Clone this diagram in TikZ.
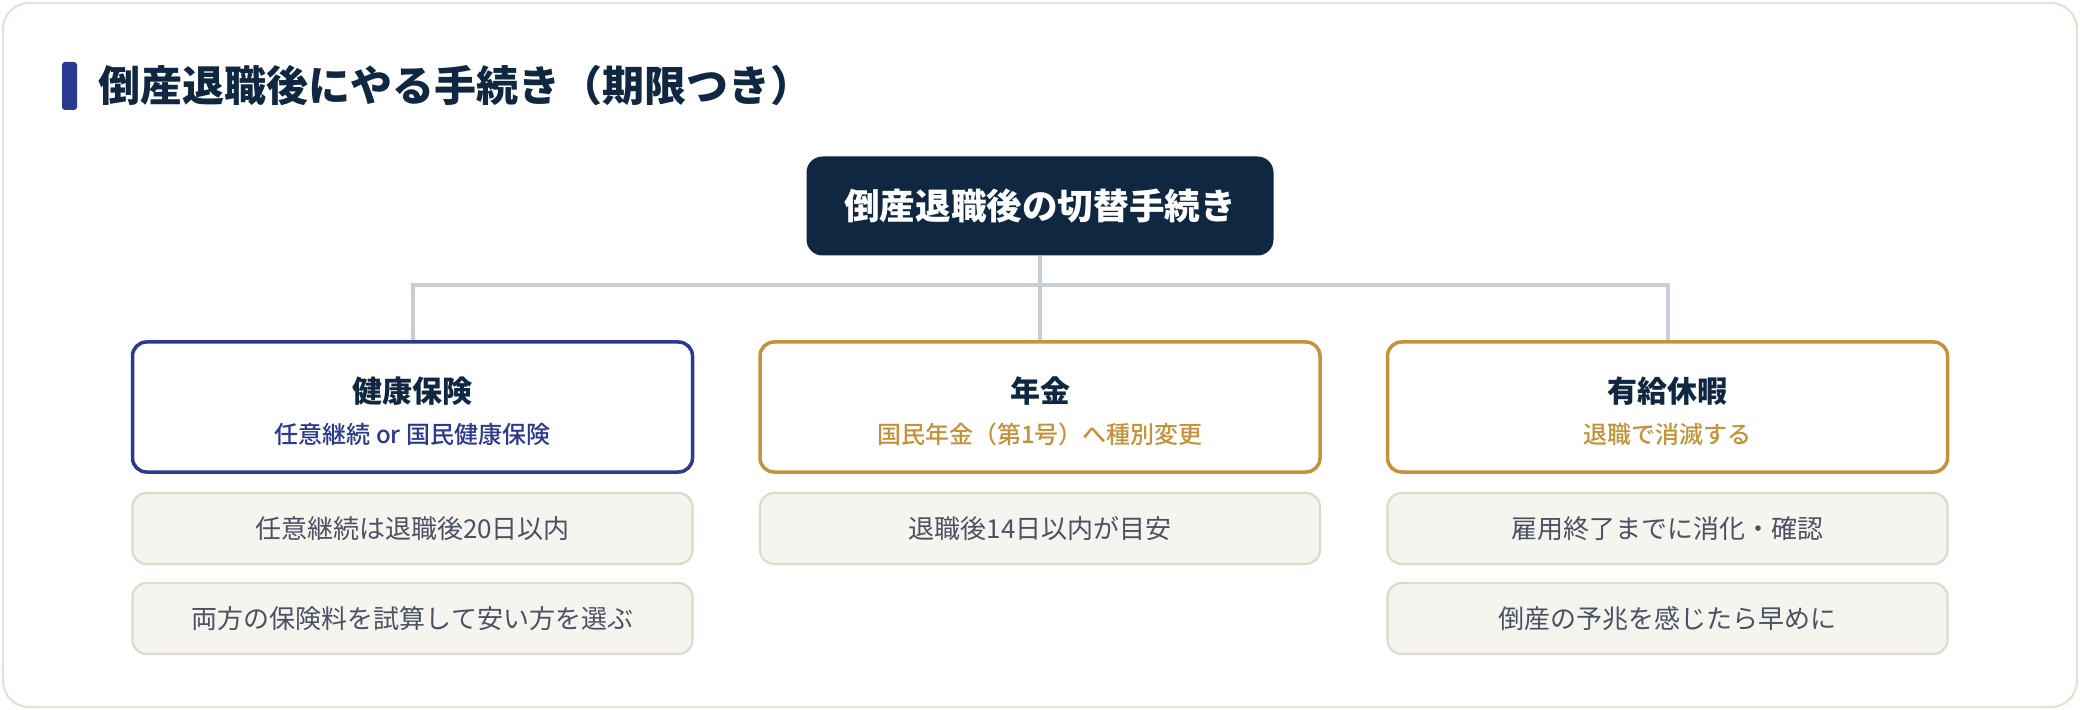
\documentclass[tikz,border=0pt]{standalone}
\usepackage{fontspec}
\setmainfont{Noto Sans CJK JP}
\newfontfamily\medfont{Noto Sans CJK JP Medium}
\definecolor{navy}{HTML}{0F2740}
\definecolor{accblue}{HTML}{2B3990}
\definecolor{gold}{HTML}{C4923A}
\definecolor{linegray}{HTML}{C8CED8}
\definecolor{itemfill}{HTML}{F5F4EF}
\definecolor{itemline}{HTML}{DDDACB}
\definecolor{itemtext}{HTML}{4A5262}
\definecolor{cardline}{HTML}{E6E3D6}
\tikzset{
  rootbox/.style={fill=navy, rounded corners=8pt, minimum width=233.5pt, minimum height=49.5pt, inner sep=0pt, text=white, font=\fontsize{17.8pt}{20pt}\selectfont\bfseries},
  catbox/.style={draw=#1, line width=1.75pt, fill=white, rounded corners=7pt, minimum width=280pt, minimum height=65pt, inner sep=0pt},
  cattitle/.style={text=navy, font=\fontsize{15pt}{18pt}\selectfont\bfseries},
  catsub/.style={text=#1, font=\fontsize{12pt}{14pt}\medfont},
  itembox/.style={draw=itemline, line width=1.1pt, fill=itemfill, rounded corners=7pt, minimum width=280pt, minimum height=35.5pt, inner sep=0pt, text=itemtext, font=\fontsize{13pt}{15pt}\selectfont},
  conn/.style={draw=linegray, line width=2pt}
}
\begin{document}
\begin{tikzpicture}[x=0.5pt,y=-0.5pt]
\useasboundingbox (0,0) rectangle (2080,710);
\fill[white] (0,0) rectangle (2080,710);
\draw[cardline, line width=1.2pt, rounded corners=13pt] (3,3) rectangle (2077,707);
% title
\fill[accblue, rounded corners=1.5pt] (62,62) rectangle (77,110);
\node[anchor=west, inner sep=0pt, text=navy, font=\fontsize{21pt}{24pt}\selectfont\bfseries] (title) at (98,86) {倒産退職後にやる手続き（期限つき）};
% root
\node[rootbox] (root) at (1040,206) {倒産退職後の切替手続き};
% categories
\node[catbox=accblue] (hk) at (412.5,407) {};
\node[cattitle] (hkt) at (412.5,391) {健康保険};
\node[catsub=accblue] (hks) at (412.5,434) {任意継続 or 国民健康保険};
\node[catbox=gold] (nk) at (1040,407) {};
\node[cattitle] (nkt) at (1040,391) {年金};
\node[catsub=gold] (nks) at (1040,434) {国民年金（第1号）へ種別変更};
\node[catbox=gold] (yk) at (1667.5,407) {};
\node[cattitle] (ykt) at (1667.5,391) {有給休暇};
\node[catsub=gold] (yks) at (1667.5,434) {退職で消滅する};
% connectors
\coordinate (j) at (1040,285);
\draw[conn] (root.south) -- (nk.north);
\draw[conn] (hk.north) -- (hk.north |- j) -- (yk.north |- j) -- (yk.north);
% items
\node[itembox] (hk1) at (412.5,528.5) {任意継続は退職後20日以内};
\node[itembox] (hk2) at (412.5,618.5) {両方の保険料を試算して安い方を選ぶ};
\node[itembox] (nk1) at (1040,528.5) {退職後14日以内が目安};
\node[itembox] (yk1) at (1667.5,528.5) {雇用終了までに消化・確認};
\node[itembox] (yk2) at (1667.5,618.5) {倒産の予兆を感じたら早めに};
\end{tikzpicture}
\end{document}
